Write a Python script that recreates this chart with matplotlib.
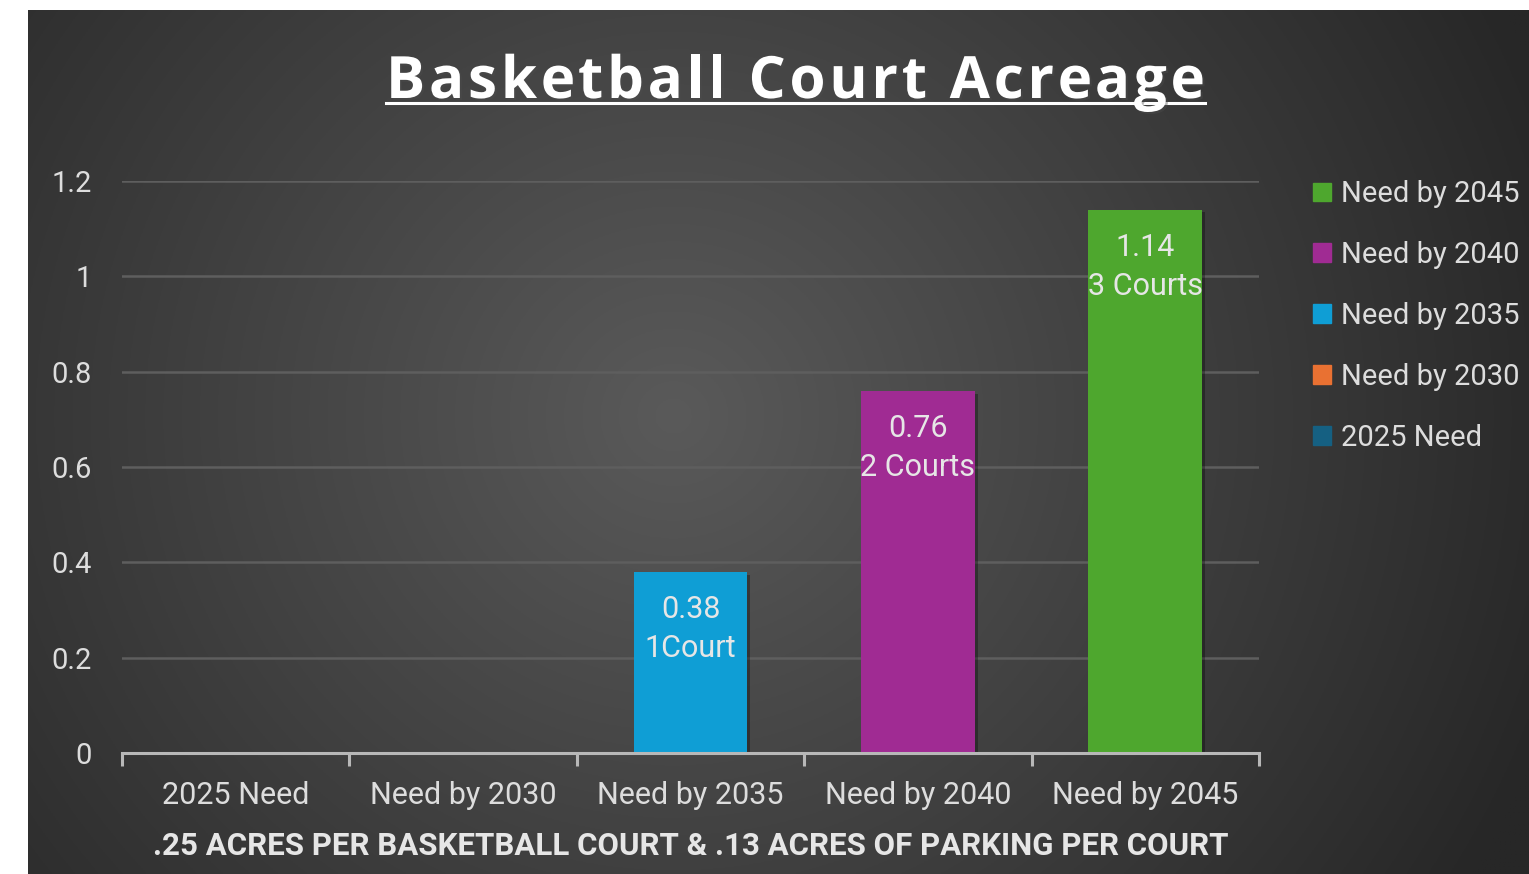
import numpy as np
import matplotlib
matplotlib.use("Agg")
import matplotlib.pyplot as plt
import matplotlib.patheffects as pe
from matplotlib.patches import Rectangle
from matplotlib.lines import Line2D

categories = ["2025 Need", "Need by 2030", "Need by 2035", "Need by 2040", "Need by 2045"]
values = [0, 0, 0.38, 0.76, 1.14]
labels = ["", "", "0.38\n1Court", "0.76\n2 Courts", "1.14\n3 Courts"]
colors = ["#156082", "#E97132", "#0F9ED5", "#A02B93", "#4EA72E"]
yticks = [0, 0.2, 0.4, 0.6, 0.8, 1, 1.2]
ytick_labels = ["0", "0.2", "0.4", "0.6", "0.8", "1", "1.2"]
title = "Basketball Court Acreage"
xlabel = ".25 ACRES PER BASKETBALL COURT & .13 ACRES OF PARKING PER COURT"

W, H = 1529, 874
fig = plt.figure(figsize=(W / 100, H / 100), dpi=100, facecolor="white")

# background panel with radial gradient
x0 = 28 / W
top = 1 - 10 / H
bg = fig.add_axes([x0, 0, 1 - x0, top])
bg.set_axis_off()
nx, ny = 600, 400
xx, yy = np.meshgrid(np.linspace(0, 1, nx), np.linspace(0, 1, ny))
cx, cy = 0.43, 0.47
r = np.sqrt(((xx - cx) * 1.0) ** 2 + ((yy - cy) * 0.6) ** 2)
r = np.clip(r / 0.62, 0, 1)
c_in = np.array([0x5a, 0x5a, 0x5a]) / 255
c_out = np.array([0x27, 0x27, 0x27]) / 255
img = c_in[None, None, :] * (1 - r[..., None]) + c_out[None, None, :] * r[..., None]
bg.imshow(img, aspect="auto", extent=[0, 1, 0, 1], origin="upper")
bg.set_xlim(0, 1)
bg.set_ylim(0, 1)

ax = fig.add_axes([122 / W, 1 - 753 / H, (1259 - 122) / W, (753 - 181) / H])
ax.patch.set_alpha(0)
x = np.arange(len(categories))
bars = ax.bar(x, values, width=0.5, color=colors, zorder=3)
for b in bars:
    b.set_path_effects([pe.SimplePatchShadow(offset=(2, -2), shadow_rgbFace="black", alpha=0.3), pe.Normal()])

ax.set_xlim(-0.5, len(categories) - 0.5)
ax.set_ylim(0, 1.2)
ax.set_yticks(yticks)
ax.set_yticklabels(ytick_labels)
for yv in yticks[1:]:
    ax.axhline(yv, color="#5e5e5e", lw=1.8, zorder=1)

for s in ["top", "right", "left"]:
    ax.spines[s].set_visible(False)
ax.spines["bottom"].set_color("#b8b8b8")
ax.spines["bottom"].set_linewidth(2.2)
ax.spines["bottom"].set_zorder(4)

ax.tick_params(axis="y", length=0, pad=22, labelsize=21, labelcolor="#dddddd")
for t in ax.get_yticklabels():
    t.set_fontfamily("Roboto")

ax.set_xticks(x)
ax.set_xticklabels(categories, fontsize=22, color="#dddddd", fontfamily="Roboto")
ax.tick_params(axis="x", which="major", length=0, pad=20)
ax.set_xticks(np.arange(-0.5, len(categories)), minor=True)
ax.tick_params(axis="x", which="minor", length=9, width=2.2, color="#b8b8b8", direction="out")

for xi, v, lab in zip(x, values, labels):
    if lab:
        ax.annotate(lab, (xi, v), xytext=(0, -17), textcoords="offset points",
                    ha="center", va="top", fontsize=22, color="#e6e6e6",
                    fontfamily="Roboto", linespacing=1.42, zorder=5)

ax.set_xlabel(xlabel, fontsize=22.5, fontweight="bold", color="#e6e6e6",
              fontfamily="Roboto", labelpad=15)

# title with letter spacing
fig.canvas.draw()
renderer = fig.canvas.get_renderer()
tprops = dict(fontsize=42, fontweight="bold", color="white", fontfamily="Open Sans")
tmp = fig.text(0, 0, title, **tprops)
full_w = tmp.get_window_extent(renderer).width
tmp.remove()
target_w = 1205 - 386
spacing = (target_w - full_w) / (len(title) - 1)
start = 795.5 - target_w / 2
ty = H - 83
for i, ch in enumerate(title):
    pre = fig.text(0, 0, title[:i] + "|", **tprops)
    bar_ = fig.text(0, 0, "|", **tprops)
    pw = pre.get_window_extent(renderer).width - bar_.get_window_extent(renderer).width if i > 0 else 0
    pre.remove(); bar_.remove()
    txt = fig.text((start + pw + i * spacing) / W, ty / H, ch, ha="left", va="center", **tprops)
    txt.set_path_effects([pe.withSimplePatchShadow(offset=(1.5, -1.5), alpha=0.4)])
fig.add_artist(Line2D([386 / W, 1205 / W], [1 - 103 / H, 1 - 103 / H],
                      transform=fig.transFigure, color="white", lw=2.2))

# legend
handles = [Rectangle((0, 0), 1, 1, color=c) for c in colors[::-1]]
leg = fig.legend(handles, categories[::-1], loc="upper left",
                 bbox_to_anchor=(1287 / W, 1 - 154 / H), frameon=False,
                 prop={"family": "Roboto", "size": 21}, labelcolor="#dddddd",
                 handlelength=0.62, handleheight=0.62, handletextpad=0.32,
                 labelspacing=1.13)

fig.savefig("out.png", dpi=100, facecolor="white")
